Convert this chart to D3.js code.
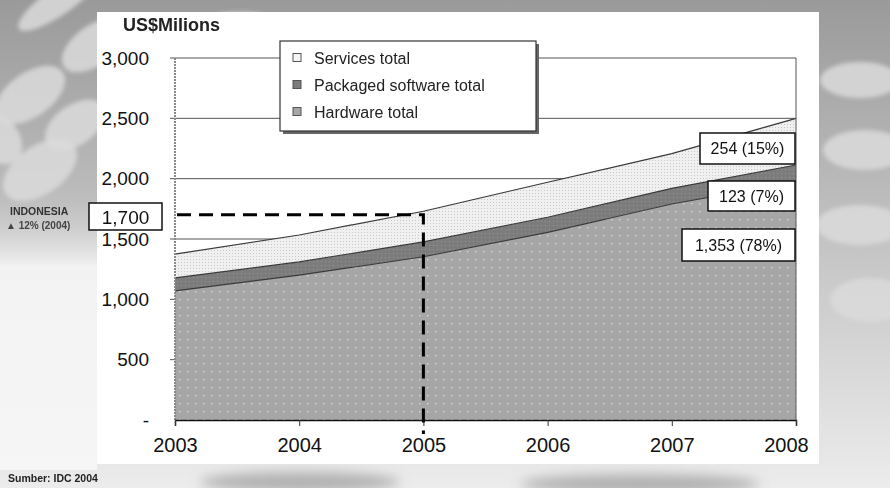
<!DOCTYPE html>
<html>
<head>
<meta charset="utf-8">
<script src="https://cdn.jsdelivr.net/npm/d3@7"></script>
<style>
  body { margin: 0; background: #fff; }
  svg { display: block; font-family: "Liberation Sans", Arial, sans-serif; }
</style>
</head>
<body>
<div id="chart"></div>
<script>
const width = 890;
const height = 488;

// data (US$ millions)
const years = [2003, 2004, 2005, 2006, 2007, 2008];
const hardware = [1070, 1200, 1353, 1555, 1790, 1975];
const software = [108, 110, 123, 125, 130, 138];
const services = [197, 223, 254, 290, 287, 387];
const yTicks = [0, 500, 1000, 1500, 2000, 2500, 3000];
const legendLabels = ["Services total", "Packaged software total", "Hardware total"];
const callouts = ["254 (15%)", "123 (7%)", "1,353 (78%)"];
const markValue = 1700;
const markYear = 2005;

const rows = years.map((yr, i) => ({
  year: yr, hardware: hardware[i], software: software[i], services: services[i]
}));

const svg = d3.select("#chart")
  .append("svg")
  .attr("width", width)
  .attr("height", height);

const defs = svg.append("defs");

const bgGrad = defs.append("linearGradient").attr("id", "bg").attr("x1", 0).attr("y1", 0).attr("x2", 0).attr("y2", 1);
bgGrad.append("stop").attr("offset", "0%").attr("stop-color", "#9a9a9a");
bgGrad.append("stop").attr("offset", "50%").attr("stop-color", "#c4c4c4");
bgGrad.append("stop").attr("offset", "100%").attr("stop-color", "#ececec");

const leftGrad = defs.append("linearGradient").attr("id", "lg").attr("x1", 0).attr("y1", 0).attr("x2", 0).attr("y2", 1);
leftGrad.append("stop").attr("offset", "0%").attr("stop-color", "#b8b8b8").attr("stop-opacity", 0);
leftGrad.append("stop").attr("offset", "30%").attr("stop-color", "#f2f2f2");
leftGrad.append("stop").attr("offset", "100%").attr("stop-color", "#f6f6f6");

defs.append("filter").attr("id", "soft")
  .attr("x", "-30%").attr("y", "-100%").attr("width", "160%").attr("height", "300%")
  .append("feGaussianBlur").attr("stdDeviation", 6);
defs.append("filter").attr("id", "soft2")
  .append("feGaussianBlur").attr("stdDeviation", 2);

// fill patterns
const hwPat = defs.append("pattern").attr("id", "hw").attr("width", 8).attr("height", 8).attr("patternUnits", "userSpaceOnUse");
hwPat.append("rect").attr("width", 8).attr("height", 8).attr("fill", "#a6a6a6");
hwPat.append("rect").attr("x", 3).attr("y", 3).attr("width", 1.4).attr("height", 1.4).attr("fill", "#d6d6d6");

const swPat = defs.append("pattern").attr("id", "sw").attr("width", 4).attr("height", 4).attr("patternUnits", "userSpaceOnUse");
swPat.append("rect").attr("width", 4).attr("height", 4).attr("fill", "#7c7c7c");
swPat.append("rect").attr("x", 1).attr("y", 1).attr("width", 1).attr("height", 1).attr("fill", "#969696");

const svPat = defs.append("pattern").attr("id", "sv").attr("width", 3).attr("height", 3).attr("patternUnits", "userSpaceOnUse");
svPat.append("rect").attr("width", 3).attr("height", 3).attr("fill", "#f0f0f0");
svPat.append("rect").attr("x", 1).attr("y", 1).attr("width", 1).attr("height", 1).attr("fill", "#c8c8c8");

// background decoration
svg.append("rect").attr("width", width).attr("height", height).attr("fill", "url(#bg)");
svg.append("rect").attr("x", 0).attr("y", 180).attr("width", 97).attr("height", 290).attr("fill", "url(#lg)");
const blobs = [
  [30, 95, 40, 22], [95, 45, 38, 20], [40, 170, 42, 24], [75, 125, 34, 20],
  [60, 0, 50, 14], [0, 140, 20, 26], [860, 80, 40, 18], [865, 150, 42, 20],
  [860, 225, 44, 20], [870, 300, 40, 22], [240, 20, 30, 8]
];
svg.append("g").attr("filter", "url(#soft2)")
  .selectAll("ellipse")
  .data(blobs)
  .join("ellipse")
  .attr("cx", d => d[0]).attr("cy", d => d[1])
  .attr("rx", d => d[2]).attr("ry", d => d[3])
  .attr("transform", (d, i) => i < 6 ? `rotate(-35 ${d[0]} ${d[1]})` : null)
  .attr("fill", "#dadada")
  .attr("opacity", 0.85);
// soft smudges along the bottom strip
svg.append("g").attr("filter", "url(#soft)")
  .selectAll("ellipse")
  .data([[300, 482, 100, 10], [640, 484, 120, 10]])
  .join("ellipse")
  .attr("cx", d => d[0]).attr("cy", d => d[1])
  .attr("rx", d => d[2]).attr("ry", d => d[3])
  .attr("fill", "#8c8c8c").attr("opacity", 0.6);

// white panel
svg.append("rect").attr("x", 97).attr("y", 12).attr("width", 722).attr("height", 452).attr("fill", "#ffffff");

const x = d3.scaleLinear().domain([2003, 2008]).range([175, 796]);
const y = d3.scaleLinear().domain([0, 3000]).range([420, 58]);

// gridlines
svg.append("g")
  .selectAll("line")
  .data(yTicks.filter(d => d > 0))
  .join("line")
  .attr("x1", x(2003) - 5).attr("x2", x(2008))
  .attr("y1", d => y(d)).attr("y2", d => y(d))
  .attr("stroke", "#555")
  .attr("stroke-width", 1);

const stack = d3.stack().keys(["hardware", "software", "services"]);
const series = stack(rows);
const fills = { hardware: "url(#hw)", software: "url(#sw)", services: "url(#sv)" };

const area = d3.area()
  .x(d => x(d.data.year))
  .y0(d => y(d[0]))
  .y1(d => y(d[1]));

const topLine = d3.line()
  .x(d => x(d.data.year))
  .y(d => y(d[1]));

svg.append("g")
  .selectAll("path")
  .data(series)
  .join("path")
  .attr("d", area)
  .attr("fill", d => fills[d.key]);

svg.append("g")
  .selectAll("path")
  .data(series)
  .join("path")
  .attr("d", topLine)
  .attr("fill", "none")
  .attr("stroke", "#3a3a3a")
  .attr("stroke-width", 1.2);

// left axis line and right border
svg.append("line")
  .attr("x1", x(2003)).attr("x2", x(2003))
  .attr("y1", y(3000)).attr("y2", y(0))
  .attr("stroke", "#8a8a8a").attr("stroke-width", 2)
  .attr("stroke-dasharray", "2,1");
svg.append("line")
  .attr("x1", x(2008)).attr("x2", x(2008))
  .attr("y1", y(3000)).attr("y2", y(0))
  .attr("stroke", "#555").attr("stroke-width", 1);

// y tick labels
const yAxis = svg.append("g")
  .attr("transform", `translate(${x(2003) - 23},0)`)
  .call(d3.axisLeft(y).tickValues(yTicks).tickSize(0)
    .tickFormat(d => d === 0 ? "-" : d3.format(",")(d)));
yAxis.select(".domain").remove();
yAxis.selectAll("text")
  .attr("font-size", 19)
  .attr("fill", "#111");

// x axis
const xAxis = svg.append("g")
  .attr("transform", `translate(0,${y(0)})`)
  .call(d3.axisBottom(x).tickValues(years).tickFormat(d3.format("d")).tickSize(6).tickPadding(12));
xAxis.select(".domain").attr("stroke", "#111").attr("stroke-width", 1.5);
xAxis.selectAll(".tick line").attr("stroke", "#333");
xAxis.selectAll("text").attr("font-size", 20).attr("fill", "#111");
xAxis.selectAll(".tick").filter(d => d === 2008).select("text").attr("dx", -10);

// dashed marker at 1,700 / 2005
svg.append("path")
  .attr("d", d3.line()([
    [x(2003) + 2, y(markValue)],
    [x(markYear), y(markValue)],
    [x(markYear), y(0) + 14]
  ]))
  .attr("fill", "none")
  .attr("stroke", "#000")
  .attr("stroke-width", 3)
  .attr("stroke-dasharray", "14,8");

// 1,700 box
svg.append("rect")
  .attr("x", 89).attr("y", 203).attr("width", 73).attr("height", 27)
  .attr("fill", "#fff").attr("stroke", "#111").attr("stroke-width", 1.5);
svg.append("text")
  .attr("x", 125.5).attr("y", 223.5)
  .attr("text-anchor", "middle")
  .attr("font-size", 19)
  .attr("fill", "#111")
  .text(d3.format(",")(markValue));

svg.append("text")
  .attr("x", 10).attr("y", 215)
  .attr("font-size", 10.5).attr("font-weight", "bold").attr("fill", "#333")
  .text("INDONESIA");
svg.append("text")
  .attr("x", 6).attr("y", 229)
  .attr("font-size", 10).attr("font-weight", "bold").attr("fill", "#444")
  .text("▲ 12% (2004)");

// callout boxes on the right
const boxes = [
  { x: 700, y: 133, w: 95, h: 31 },
  { x: 708, y: 181, w: 87, h: 30 },
  { x: 682, y: 229, w: 113, h: 32 }
];
const cg = svg.append("g")
  .selectAll("g")
  .data(callouts)
  .join("g");
cg.append("rect")
  .attr("x", (d, i) => boxes[i].x).attr("y", (d, i) => boxes[i].y)
  .attr("width", (d, i) => boxes[i].w).attr("height", (d, i) => boxes[i].h)
  .attr("fill", "#fff").attr("stroke", "#111").attr("stroke-width", 1.5);
cg.append("text")
  .attr("x", (d, i) => boxes[i].x + boxes[i].w / 2)
  .attr("y", (d, i) => boxes[i].y + boxes[i].h / 2 + 5.5)
  .attr("text-anchor", "middle")
  .attr("font-size", 16)
  .attr("fill", "#111")
  .text(d => d);

// legend
const lg = svg.append("g");
lg.append("rect")
  .attr("x", 283).attr("y", 44).attr("width", 256).attr("height", 90)
  .attr("fill", "#666");
lg.append("rect")
  .attr("x", 280).attr("y", 41).attr("width", 256).attr("height", 90)
  .attr("fill", "#fff").attr("stroke", "#333").attr("stroke-width", 1.2);
const swatchFill = ["#f4f4f4", "#7c7c7c", "#a6a6a6"];
const items = lg.selectAll("g.item")
  .data(legendLabels)
  .join("g")
  .attr("transform", (d, i) => `translate(293,${58 + i * 27})`);
items.append("rect")
  .attr("x", 0).attr("y", -4.5).attr("width", 8).attr("height", 8)
  .attr("fill", (d, i) => swatchFill[i])
  .attr("stroke", "#555").attr("stroke-width", 1);
items.append("text")
  .attr("x", 21).attr("y", 5.5)
  .attr("font-size", 16)
  .attr("fill", "#222")
  .text(d => d);

// titles
svg.append("text")
  .attr("x", 123).attr("y", 31)
  .attr("font-size", 18).attr("font-weight", "bold").attr("fill", "#222")
  .text("US$Milions");
svg.append("text")
  .attr("x", 8).attr("y", 482)
  .attr("font-size", 10.5).attr("font-weight", "bold").attr("fill", "#222")
  .text("Sumber: IDC 2004");
</script>
</body>
</html>
